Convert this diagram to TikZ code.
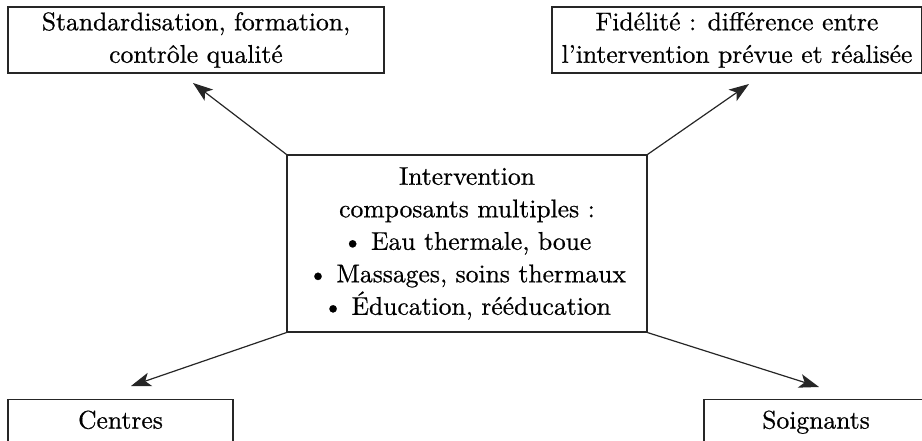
\documentclass[tikz,border=0pt]{standalone}
\usepackage{fontspec}
\newfontfamily\boxfont{lmroman10-regular}[Extension=.otf, FakeBold=0.6]
\usetikzlibrary{arrows.meta}

\tikzset{
  box/.style={draw=black!85, line width=1.2pt, inner sep=0pt, align=center,
              font=\boxfont\fontsize{25.6}{32.5}\selectfont},
  link/.style={draw=black!85, line width=1.2pt,
               -{Stealth[length=20pt, width=14pt, inset=5pt]}},
}

\begin{document}
\begin{tikzpicture}[x=1pt, y=-1pt]
  \useasboundingbox (0,0) rectangle (922,441);
  \clip (0,0) rectangle (922,441);

  % central intervention box
  \node[box, minimum width=360pt, minimum height=177pt] (core) at (467,243.5)
    {Intervention\\composants multiples :\\%
     \textbullet\ Eau thermale, boue\\%
     \textbullet\ Massages, soins thermaux\\%
     \textbullet\ Éducation, rééducation};

  % surrounding boxes
  \node[box, minimum width=376pt, minimum height=66pt] (std) at (196,40)
    {Standardisation, formation,\\contrôle qualité};
  \node[box, minimum width=370pt, minimum height=66pt] (fid) at (737,40)
    {Fidélité : différence entre\\l’intervention prévue et réalisée};
  \node[box, anchor=north, minimum width=225pt, text height=29pt, text depth=31pt]
    (ctr) at (120.5,399) {Centres};
  \node[box, anchor=north, minimum width=224pt, text height=29pt, text depth=31pt]
    (soi) at (816,399) {Soignants};

  % arrow end points, just short of the boxes
  \coordinate (stdEnd) at (193,83);
  \coordinate (fidEnd) at (749,84);
  \coordinate (ctrEnd) at (131,386);
  \coordinate (soiEnd) at (819,387);

  \draw[link] (core.north west) -- (stdEnd);
  \draw[link] (core.north east) -- (fidEnd);
  \draw[link] (core.south west) -- (ctrEnd);
  \draw[link] (core.south east) -- (soiEnd);
\end{tikzpicture}
\end{document}
